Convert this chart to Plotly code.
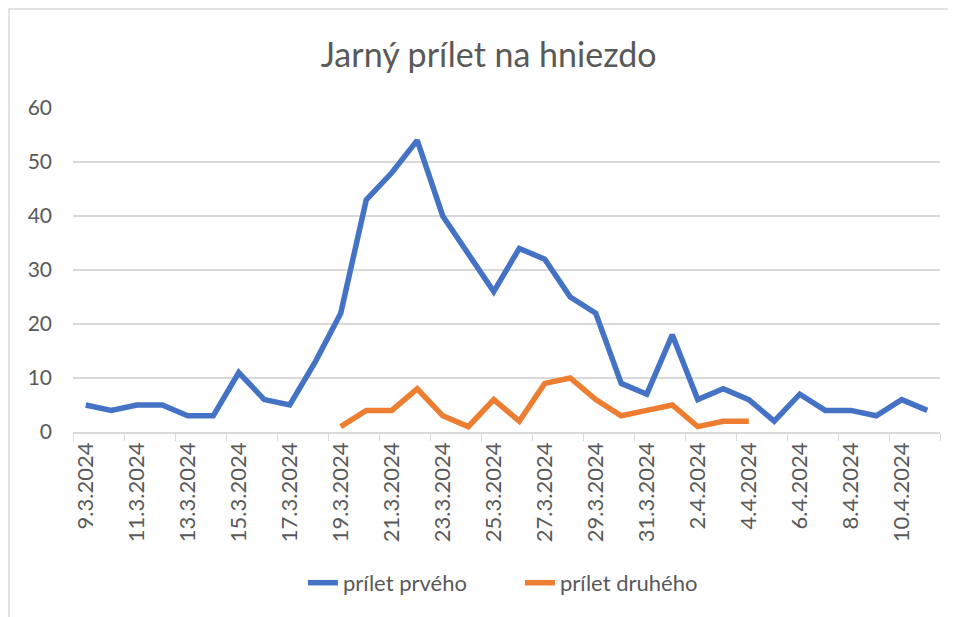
import plotly.graph_objects as go

dates = ["9.3.2024", "10.3.2024", "11.3.2024", "12.3.2024", "13.3.2024", "14.3.2024",
         "15.3.2024", "16.3.2024", "17.3.2024", "18.3.2024", "19.3.2024", "20.3.2024",
         "21.3.2024", "22.3.2024", "23.3.2024", "24.3.2024", "25.3.2024", "26.3.2024",
         "27.3.2024", "28.3.2024", "29.3.2024", "30.3.2024", "31.3.2024", "1.4.2024",
         "2.4.2024", "3.4.2024", "4.4.2024", "5.4.2024", "6.4.2024", "7.4.2024",
         "8.4.2024", "9.4.2024", "10.4.2024", "11.4.2024"]

prvy = [5, 4, 5, 5, 3, 3, 11, 6, 5, 13, 22, 43, 48, 54, 40, 33, 26, 34, 32, 25,
        22, 9, 7, 18, 6, 8, 6, 2, 7, 4, 4, 3, 6, 4]

druhy = [None, None, None, None, None, None, None, None, None, None,
         1, 4, 4, 8, 3, 1, 6, 2, 9, 10, 6, 3, 4, 5, 1, 2, 2,
         None, None, None, None, None, None, None]

FONT = "Lato"
GREY = "#595959"

fig = go.Figure()
fig.add_trace(go.Scatter(x=dates, y=prvy, mode="lines", name="prílet prvého",
                         line=dict(color="#4472C4", width=5.5, shape="linear"),
                         connectgaps=False))
fig.add_trace(go.Scatter(x=dates, y=druhy, mode="lines", name="prílet druhého",
                         line=dict(color="#ED7D31", width=5.5, shape="linear"),
                         connectgaps=False))

fig.update_layout(
    width=948, height=609,
    paper_bgcolor="white", plot_bgcolor="white",
    margin=dict(l=65, r=16, t=100, b=185),
    font=dict(family=FONT, color=GREY, size=21),
    title=dict(text="Jarný prílet na hniezdo", xref="container", x=0.507,
               xanchor="center", yref="container", y=0.923, yanchor="middle",
               font=dict(family=FONT, size=34, color=GREY)),
    showlegend=True,
    legend=dict(orientation="h", xref="container", x=0.540, xanchor="center",
                yref="container", y=0.056, yanchor="middle",
                font=dict(family=FONT, size=22, color=GREY),
                itemwidth=30, entrywidth=172, entrywidthmode="pixels"),
    xaxis=dict(type="category", dtick=2, tickson="boundaries", ticks="outside",
               ticklen=7, tickcolor="#d9d9d9", tickangle=-90,
               showline=True, linecolor="#d9d9d9", linewidth=1.5,
               showgrid=False, range=[-0.5, len(dates) - 0.5],
               tickfont=dict(family=FONT, size=22, color=GREY)),
    yaxis=dict(range=[0, 60], dtick=10, showgrid=True, gridcolor="#d9d9d9",
               gridwidth=1.5, zeroline=False, showline=False,
               ticklabelstandoff=20,
               tickfont=dict(family=FONT, size=21, color=GREY)),
    shapes=[dict(type="rect", xref="paper", yref="paper",
                 x0=-0.0738, x1=1.1, y0=-0.7, y1=1.3056,
                 line=dict(color="#d9d9d9", width=1.5), fillcolor="rgba(0,0,0,0)",
                 layer="below")],
)

fig.write_html("out.html")
